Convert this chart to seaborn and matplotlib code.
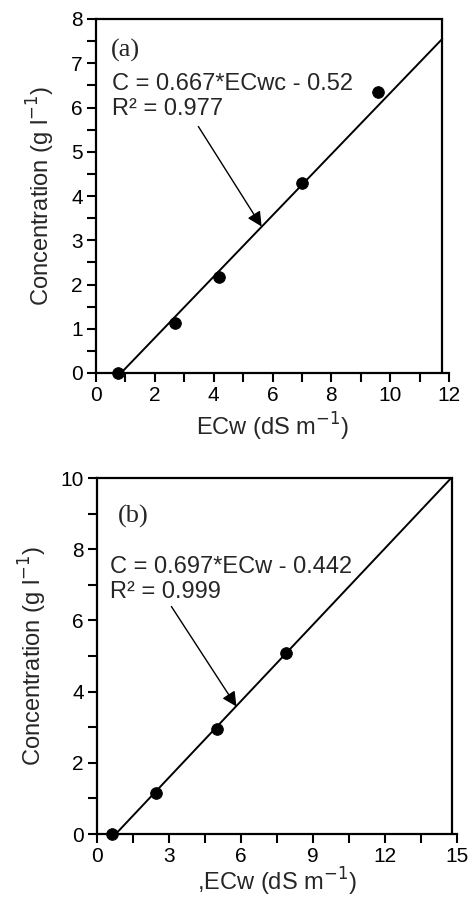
import matplotlib
matplotlib.use("Agg")
import matplotlib.pyplot as plt
import seaborn as sns
import pandas as pd
from matplotlib.ticker import MultipleLocator

sns.set_style("ticks")
plt.rcParams['font.family'] = ['Liberation Sans', 'DejaVu Sans']

# Panel (a) data
a_ecw = [0.76, 2.67, 4.19, 7.0, 9.59]
a_conc = [0.0, 1.12, 2.17, 4.30, 6.36]
a_fit_x = [0.85, 11.77]
a_fit_y = [0.0, 7.55]
a_eq = "C = 0.667*ECwc - 0.52\nR² = 0.977"

# Panel (b) data
b_ecw = [0.64, 2.47, 5.0, 7.86]
b_conc = [0.0, 1.16, 2.96, 5.08]
b_fit_x = [0.78, 14.76]
b_fit_y = [0.0, 10.0]
b_eq = "C = 0.697*ECw - 0.442\nR² = 0.999"

fig = plt.figure(figsize=(4.72, 9.0), dpi=100)

def style(ax, xmax, ymax, xmaj, xmin, ymaj, ymin, xright):
    ax.set_xlim(0, xmax)
    ax.set_ylim(0, ymax)
    ax.xaxis.set_major_locator(MultipleLocator(xmaj))
    ax.xaxis.set_minor_locator(MultipleLocator(xmin))
    ax.yaxis.set_major_locator(MultipleLocator(ymaj))
    ax.yaxis.set_minor_locator(MultipleLocator(ymin))
    ax.tick_params(which='both', direction='out', length=6.5, width=1.5,
                   labelsize=15, colors='black', pad=3)
    for s in ax.spines.values():
        s.set_linewidth(1.6)
        s.set_color('black')
    ax.spines['right'].set_visible(False)
    ax.spines['top'].set_bounds(0, xright)
    ax.axvline(xright, color='black', lw=1.6, clip_on=False)

# ---- Panel (a)
axa = fig.add_axes([96/472, (900-373)/900, (449-96)/472, (373-19)/900])
dfa = pd.DataFrame({"x": a_ecw, "y": a_conc})
sns.lineplot(x=a_fit_x, y=a_fit_y, ax=axa, color='black', lw=1.4)
sns.scatterplot(data=dfa, x="x", y="y", ax=axa, color='black', s=70,
                edgecolor='black', zorder=5, clip_on=False)
style(axa, 12, 8, 2, 1, 1, 0.5, 11.77)
axa.set_xlabel("ECw (dS m$^{-1}$)", fontsize=17, labelpad=4)
axa.set_ylabel("Concentration (g l$^{-1}$)", fontsize=17, labelpad=10)
axa.text(0.5, 7.3, "(a)", fontsize=19, family=['Liberation Serif'],
         va='center', ha='left')
axa.text(0.53, 6.25, a_eq, fontsize=17, va='center', ha='left', linespacing=1.15)
axa.annotate("", xy=(5.63, 3.31), xytext=(3.48, 5.57),
             arrowprops=dict(arrowstyle='-|>', color='black', lw=1.0,
                             mutation_scale=22, shrinkA=0, shrinkB=0))

# ---- Panel (b)
axb = fig.add_axes([97/472, (900-834)/900, (457-97)/472, (834-478)/900])
dfb = pd.DataFrame({"x": b_ecw, "y": b_conc})
sns.lineplot(x=b_fit_x, y=b_fit_y, ax=axb, color='black', lw=1.4)
sns.scatterplot(data=dfb, x="x", y="y", ax=axb, color='black', s=70,
                edgecolor='black', zorder=5, clip_on=False)
style(axb, 15, 10, 3, 1.5, 2, 1, 14.78)
axb.set_xlabel(",ECw (dS m$^{-1}$)", fontsize=17, labelpad=0)
axb.set_ylabel("Concentration (g l$^{-1}$)", fontsize=17, labelpad=8)
axb.text(0.85, 8.92, "(b)", fontsize=19, family=['Liberation Serif'],
         va='center', ha='left')
axb.text(0.53, 7.15, b_eq, fontsize=17, va='center', ha='left', linespacing=1.15)
axb.annotate("", xy=(5.81, 3.58), xytext=(3.10, 6.39),
             arrowprops=dict(arrowstyle='-|>', color='black', lw=1.0,
                             mutation_scale=22, shrinkA=0, shrinkB=0))

fig.savefig("out.png", dpi=100)
